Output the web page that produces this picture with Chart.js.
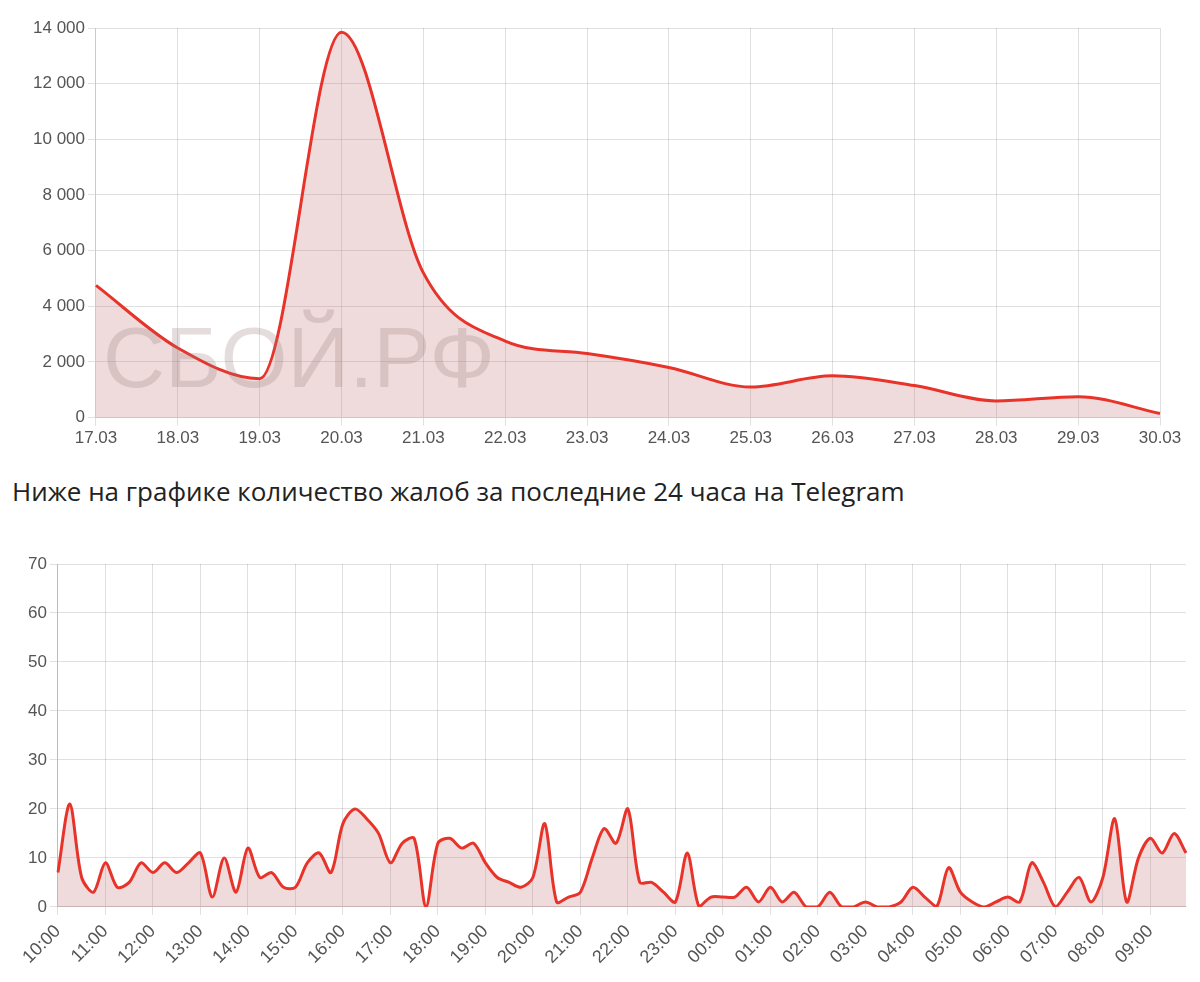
<!DOCTYPE html>
<html>
<head>
<meta charset="utf-8">
<script src="https://cdn.jsdelivr.net/npm/chart.js@4"></script>
<style>
body { margin: 0; background: #fff; width: 1200px; height: 982px; overflow: hidden; position: relative; font-family: "Liberation Sans", Arial, sans-serif; }
#top { position: absolute; left: 0; top: 0; width: 1200px; height: 452px; }
#bottom { position: absolute; left: 0; top: 550px; width: 1200px; height: 424px; }
#title { position: absolute; left: 12px; top: 473px; font-family: "Open Sans", sans-serif; font-size: 26px; color: #222; }
#mark { position: absolute; left: 103px; top: 308px; font-family: "Liberation Sans", Arial, sans-serif; font-size: 86px; color: rgba(150,120,120,0.25); pointer-events: none; }
</style>
</head>
<body>
<div id="top"><canvas id="topChart"></canvas></div>
<div id="mark">СБОЙ.РФ</div>
<div id="title">Ниже на графике количество жалоб за последние 24 часа на Telegram</div>
<div id="bottom"><canvas id="bottomChart"></canvas></div>
<script>
const days = ["17.03","18.03","19.03","20.03","21.03","22.03","23.03","24.03","25.03","26.03","27.03","28.03","29.03","30.03"];
const dayValues = [4750, 2500, 1400, 13850, 5200, 2750, 2300, 1800, 1100, 1500, 1150, 600, 750, 150];

const hours = ["10","11","12","13","14","15","16","17","18","19","20","21","22","23","00","01","02","03","04","05","06","07","08","09"];
const quarterValues = [
    7,21,6,3,  9,4,5,9,  7,9,7,9,  11,2,10,3,  12,6,7,4,  4,9,11,7,
    17,20,18,15,  9,13,14,0,  13,14,12,13,  9,6,5,4,  6,17,1,2,  3,10,16,13,
    20,5,5,3,  1,11,0,2,  2,2,4,1,  4,1,3,0,  0,3,0,0,  1,0,0,1,
    4,2,0,8,  3,1,0,1,  2,1,9,5,  0,3,6,1,  6,18,1,10,  14,11,15,11
];
const quarterLabels = [];
for (const h of hours) for (const m of ["00","15","30","45"]) quarterLabels.push(h + ":" + m);

const lineColor = "#e8332a";
const fillColor = "rgba(190,110,110,0.25)";
const gridColor = "rgba(0,0,0,0.12)";
const tickFont = { family: "Liberation Sans, Arial, sans-serif", size: 17 };

Chart.defaults.color = "#555";

new Chart("topChart", {
    type: "line",
    data: {
        labels: days,
        datasets: [{
            data: dayValues,
            borderColor: lineColor,
            backgroundColor: fillColor,
            borderWidth: 3,
            fill: "origin",
            pointRadius: 0,
            cubicInterpolationMode: "monotone"
        }]
    },
    options: {
        responsive: true,
        maintainAspectRatio: false,
        animation: false,
        layout: { padding: { top: 28, right: 40, left: 30 } },
        plugins: { legend: { display: false }, tooltip: { enabled: false } },
        scales: {
            x: {
                grid: { color: gridColor },
                ticks: { font: tickFont, maxRotation: 0 }
            },
            y: {
                min: 0, max: 14000,
                grid: { color: gridColor },
                ticks: {
                    stepSize: 2000,
                    font: tickFont,
                    callback: v => String(v).replace(/\B(?=(\d{3})+(?!\d))/g, " ")
                }
            }
        }
    }
});

new Chart("bottomChart", {
    type: "line",
    data: {
        labels: quarterLabels,
        datasets: [{
            data: quarterValues,
            borderColor: lineColor,
            backgroundColor: fillColor,
            borderWidth: 3,
            fill: "origin",
            pointRadius: 0,
            tension: 0.3
        }]
    },
    options: {
        responsive: true,
        maintainAspectRatio: false,
        animation: false,
        layout: { padding: { top: 14, right: 14, left: 25 } },
        plugins: { legend: { display: false }, tooltip: { enabled: false } },
        scales: {
            x: {
                grid: { color: gridColor },
                ticks: {
                    font: { family: "Liberation Sans, Arial, sans-serif", size: 18 },
                    padding: 6,
                    autoSkip: false,
                    maxRotation: 45,
                    minRotation: 45,
                    callback: function (v) {
                        const l = this.getLabelForValue(v);
                        return l.endsWith(":00") ? l : null;
                    }
                }
            },
            y: {
                min: 0, max: 70,
                border: { color: "#bbb" },
                grid: { color: gridColor },
                ticks: { stepSize: 10, font: tickFont }
            }
        }
    }
});
</script>
</body>
</html>
